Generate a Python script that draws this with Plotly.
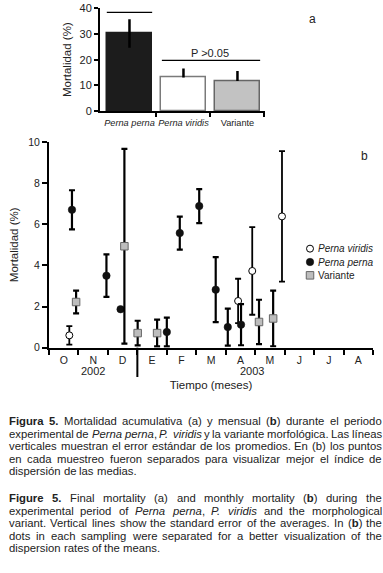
import re
import plotly.graph_objects as go

W, H = 383, 573
FONT = "Liberation Sans"

# ---------- Panel a data ----------
a_species = ["<i>Perna perna</i>", "<i>Perna viridis</i>", "Variante"]
a_mortality = [30.2, 13.0, 11.7]
a_err_up = [5.5, 3.6, 3.9]
a_err_down = [5.6, 0.0, 0.0]
a_yticks = [0, 10, 20, 30, 40]

# ---------- Panel b data (x in months from start of October 2002) ----------
months = ["O", "N", "D", "E", "F", "M", "A", "M", "J", "J", "A"]
b_yticks = [0, 2, 4, 6, 8, 10]

viridis_x = [0.69, 6.42, 6.90, 7.91]
viridis_y = [0.60, 2.27, 3.73, 6.38]
viridis_err = [0.45, 1.08, 2.13, 3.17]

perna_x = [0.78, 1.95, 2.43, 4.00, 4.44, 5.10, 5.66, 6.07, 6.52]
perna_y = [6.70, 3.50, 1.87, 0.76, 5.57, 6.88, 2.82, 1.00, 1.12]
perna_err = [0.95, 1.03, float("nan"), 0.70, 0.80, 0.83, 1.58, 0.90, 1.00]

variante_x = [0.92, 2.56, 3.01, 3.67, 7.13, 7.61]
variante_y = [2.22, 4.93, 0.71, 0.71, 1.25, 1.42]
variante_err = [0.55, 4.73, 0.60, 0.65, 1.08, 1.35]

legend_names = ["<i>Perna viridis</i>", "<i>Perna perna</i>", "Variante"]

caption_es = [
    "<b>Figura 5.</b>  Mortalidad acumulativa (a) y mensual (<b>b</b>) durante el periodo",
    "experimental de <i>Perna perna</i>, <i>P. viridis</i> y la variante morfológica. Las líneas",
    "verticales muestran el error estándar de los promedios. En (b) los puntos",
    "en cada muestreo fueron separados para visualizar mejor el índice de",
    "dispersión de las medias.",
]
caption_en = [
    "<b>Figure 5.</b> Final mortality (a) and monthly mortality (<b>b</b>) during the",
    "experimental period of <i>Perna perna</i>, <i>P. viridis</i> and the morphological",
    "variant. Vertical lines show the standard error of the averages. In (<b>b</b>) the",
    "dots in each sampling were separated for a better visualization of the",
    "dispersion rates of the means.",
]


def px_x(p):
    return p / W


def px_y(p):
    return (H - p) / H


# Arial / Liberation Sans advance widths (1/1000 em)
REG = {' ': 278, '(': 333, ')': 333, ',': 278, '.': 278, '>': 584, '%': 889,
       'A': 667, 'B': 667, 'C': 722, 'D': 722, 'E': 667, 'F': 611, 'G': 778, 'H': 722,
       'I': 278, 'J': 500, 'K': 667, 'L': 556, 'M': 833, 'N': 722, 'O': 778, 'P': 667,
       'Q': 778, 'R': 722, 'S': 667, 'T': 611, 'U': 722, 'V': 667, 'W': 944, 'X': 667,
       'Y': 667, 'Z': 611,
       'a': 556, 'b': 556, 'c': 500, 'd': 556, 'e': 556, 'f': 278, 'g': 556, 'h': 556,
       'i': 222, 'j': 222, 'k': 500, 'l': 222, 'm': 833, 'n': 556, 'o': 556, 'p': 556,
       'q': 556, 'r': 333, 's': 500, 't': 278, 'u': 556, 'v': 500, 'w': 722, 'x': 500,
       'y': 500, 'z': 500, 'á': 556, 'é': 556, 'í': 278, 'ó': 556, 'ú': 556}
BOLD = {'F': 611, 'i': 278, 'g': 611, 'u': 611, 'r': 389, 'a': 556, 'e': 556, 'b': 611,
        '5': 556, '.': 278, ' ': 278}
for d in "0123456789":
    REG[d] = 556


def word_width(token, size):
    total = 0
    bold = False
    for part in re.split(r"(<[^>]+>)", token):
        if part.startswith("<"):
            if part == "<b>":
                bold = True
            elif part == "</b>":
                bold = False
            continue
        for ch in part:
            table = BOLD if bold else REG
            total += table.get(ch, REG.get(ch, 556))
    return total * size / 1000.0


def tokens_of(line):
    """Split a line into words, closing/reopening <b>/<i> spans per word."""
    out = []
    open_tags = []
    for w in line.split():
        prefix = "".join("<%s>" % t for t in open_tags)
        for m in re.finditer(r"<(/?)([bi])>", w):
            if m.group(1):
                if m.group(2) in open_tags:
                    open_tags.remove(m.group(2))
            else:
                open_tags.append(m.group(2))
        suffix = "".join("</%s>" % t for t in reversed(open_tags))
        out.append(prefix + w + suffix)
    return out


fig = go.Figure()

# Panel a bars
fig.add_trace(go.Bar(
    x=[0, 1, 2], y=a_mortality, width=0.83,
    marker=dict(color=["#1c1c1c", "#ffffff", "#c2c2c2"],
                line=dict(color=["#1c1c1c", "#7a7a7a", "#666666"], width=1.5)),
    error_y=dict(type="data", symmetric=False, array=a_err_up, arrayminus=a_err_down,
                 color="#000000", thickness=2.5, width=0),
    xaxis="x", yaxis="y", showlegend=False, hoverinfo="skip",
))

marker_viridis = dict(symbol="circle", size=7, color="white", line=dict(color="#000", width=1))
marker_perna = dict(symbol="circle", size=7.5, color="#111", line=dict(color="#111", width=0.5))
marker_var = dict(symbol="square", size=7.5, color="#bdbdbd", line=dict(color="#666", width=1))

# Panel b series
fig.add_trace(go.Scatter(
    x=viridis_x, y=viridis_y, mode="markers", name=legend_names[0], marker=marker_viridis,
    error_y=dict(type="data", array=viridis_err, color="#000", thickness=1.8, width=3),
    xaxis="x2", yaxis="y2", showlegend=False,
))
fig.add_trace(go.Scatter(
    x=perna_x, y=perna_y, mode="markers", name=legend_names[1], marker=marker_perna,
    error_y=dict(type="data", array=perna_err, color="#000", thickness=2.2, width=3),
    xaxis="x2", yaxis="y2", showlegend=False,
))
fig.add_trace(go.Scatter(
    x=variante_x, y=variante_y, mode="markers", name=legend_names[2], marker=marker_var,
    error_y=dict(type="data", array=variante_err, color="#000", thickness=2.2, width=3),
    xaxis="x2", yaxis="y2", showlegend=False,
))

# compact legend keys (one symbol per series) on a hidden helper axis
for k, mk in enumerate([marker_viridis, marker_perna, marker_var]):
    fig.add_trace(go.Scatter(
        x=[0.5], y=[2.5 - k], mode="markers", marker=mk, xaxis="x3", yaxis="y3",
        showlegend=False, hoverinfo="skip", cliponaxis=False,
    ))

axis_common = dict(showline=True, linecolor="#000", linewidth=2, showgrid=False,
                   zeroline=False, tickwidth=2, ticks="outside", automargin=False)

layout = dict(
    width=W, height=H, margin=dict(l=0, r=0, t=0, b=0, autoexpand=False),
    paper_bgcolor="white", plot_bgcolor="white",
    font=dict(family=FONT, color="#222"),
    bargap=0, showlegend=False,
    xaxis=dict(**axis_common, domain=[px_x(100), px_x(265)], range=[-0.546, 2.51],
               tickvals=[0, 1, 2], ticktext=a_species, ticklen=2, tickcolor="rgba(0,0,0,0)",
               tickangle=0, tickfont=dict(family=FONT, size=9.2, color="#222"),
               minor=dict(tickvals=[0.5, 1.5, 2.5], ticks="outside", ticklen=4,
                          tickwidth=2, tickcolor="#000"),
               anchor="y"),
    yaxis=dict(**axis_common, domain=[px_y(111), px_y(8.3)], range=[0, 40],
               tickvals=a_yticks, ticklen=4, tickcolor="#000",
               tickfont=dict(family=FONT, size=11, color="#222"),
               title=dict(text="Mortalidad (%)", font=dict(family=FONT, size=11.5), standoff=6),
               anchor="x"),
    xaxis2=dict(**axis_common, domain=[px_x(49), px_x(373)], range=[0, 11],
                tickvals=[i + 0.5 for i in range(len(months))], ticktext=months,
                ticklen=2, tickcolor="rgba(0,0,0,0)", tickangle=0,
                tickfont=dict(family=FONT, size=10.5, color="#222"),
                minor=dict(tick0=0, dtick=1, ticks="outside", ticklen=5,
                           tickwidth=2, tickcolor="#000"),
                title=dict(text="Tiempo (meses)", font=dict(family=FONT, size=11.5), standoff=16),
                anchor="y2"),
    yaxis2=dict(**axis_common, domain=[px_y(347.7), px_y(141.9)], range=[0, 10],
                tickvals=b_yticks, ticklen=5, tickcolor="#000",
                tickfont=dict(family=FONT, size=10.5, color="#222"),
                title=dict(text="Mortalidad (%)", font=dict(family=FONT, size=11.5), standoff=7),
                anchor="x2"),
    xaxis3=dict(domain=[px_x(300), px_x(320)], range=[0, 1], visible=False, anchor="y3",
                fixedrange=True),
    yaxis3=dict(domain=[px_y(282), px_y(242)], range=[0, 3], visible=False, anchor="x3",
                fixedrange=True),
)
fig.update_layout(**layout)

shapes = [
    # significance lines in panel a
    dict(type="line", xref="x", yref="y", x0=-0.42, x1=0.42, y0=38.4, y1=38.4,
         line=dict(color="#000", width=1.2)),
    dict(type="line", xref="x", yref="y", x0=0.6, x1=2.42, y0=19.7, y1=19.7,
         line=dict(color="#000", width=1.2)),
    # year divider in panel b
    dict(type="line", xref="x2", yref="paper", x0=3, x1=3, y0=px_y(347.7), y1=px_y(377),
         line=dict(color="#000", width=2)),
]
fig.update_layout(shapes=shapes)

ann = [
    dict(text="P >0.05", x=1.5, y=19.7, xref="x", yref="y", yanchor="bottom", showarrow=False,
         font=dict(family=FONT, size=11, color="#222"), yshift=-1),
    dict(text="a", x=px_x(318), y=px_y(10), xref="paper", yref="paper", showarrow=False,
         font=dict(family=FONT, size=12, color="#222")),
    dict(text="b", x=px_x(370), y=px_y(147), xref="paper", yref="paper", showarrow=False,
         font=dict(family=FONT, size=12, color="#222")),
    dict(text="2002", x=1.5, y=px_y(371), xref="x2", yref="paper", showarrow=False,
         font=dict(family=FONT, size=11, color="#222")),
    dict(text="2003", x=6.9, y=px_y(371), xref="x2", yref="paper", showarrow=False,
         font=dict(family=FONT, size=11, color="#222")),
]
for k, nm in enumerate(legend_names):
    ann.append(dict(text=nm, x=px_x(316), y=2.5 - k, xref="paper", yref="y3", xanchor="left",
                    yanchor="middle", showarrow=False,
                    font=dict(family=FONT, size=10, color="#222")))

# caption, justified word by word
CAP_SIZE = 11.3
LEFT, RIGHT = 7.0, 380.0


def add_caption(lines, y0, dy):
    for i, line in enumerate(lines):
        y = px_y(y0 + dy * i)
        toks = tokens_of(line)
        justify = i < len(lines) - 1
        widths = [word_width(t, CAP_SIZE) for t in toks]
        space = 278 * CAP_SIZE / 1000.0
        if justify and len(toks) > 1:
            space = (RIGHT - LEFT - sum(widths)) / (len(toks) - 1)
        x = LEFT
        for t, w in zip(toks, widths):
            ann.append(dict(text=t, x=px_x(x), y=y, xref="paper", yref="paper",
                            xanchor="left", yanchor="middle", showarrow=False,
                            font=dict(family=FONT, size=CAP_SIZE, color="#222")))
            x += w + space


add_caption(caption_es, 421.0, 12.6)
add_caption(caption_en, 498.3, 12.5)

fig.update_layout(annotations=ann)

fig.write_html("out.html", config={"displayModeBar": False},
               post_script="document.body.style.margin='0px';")
